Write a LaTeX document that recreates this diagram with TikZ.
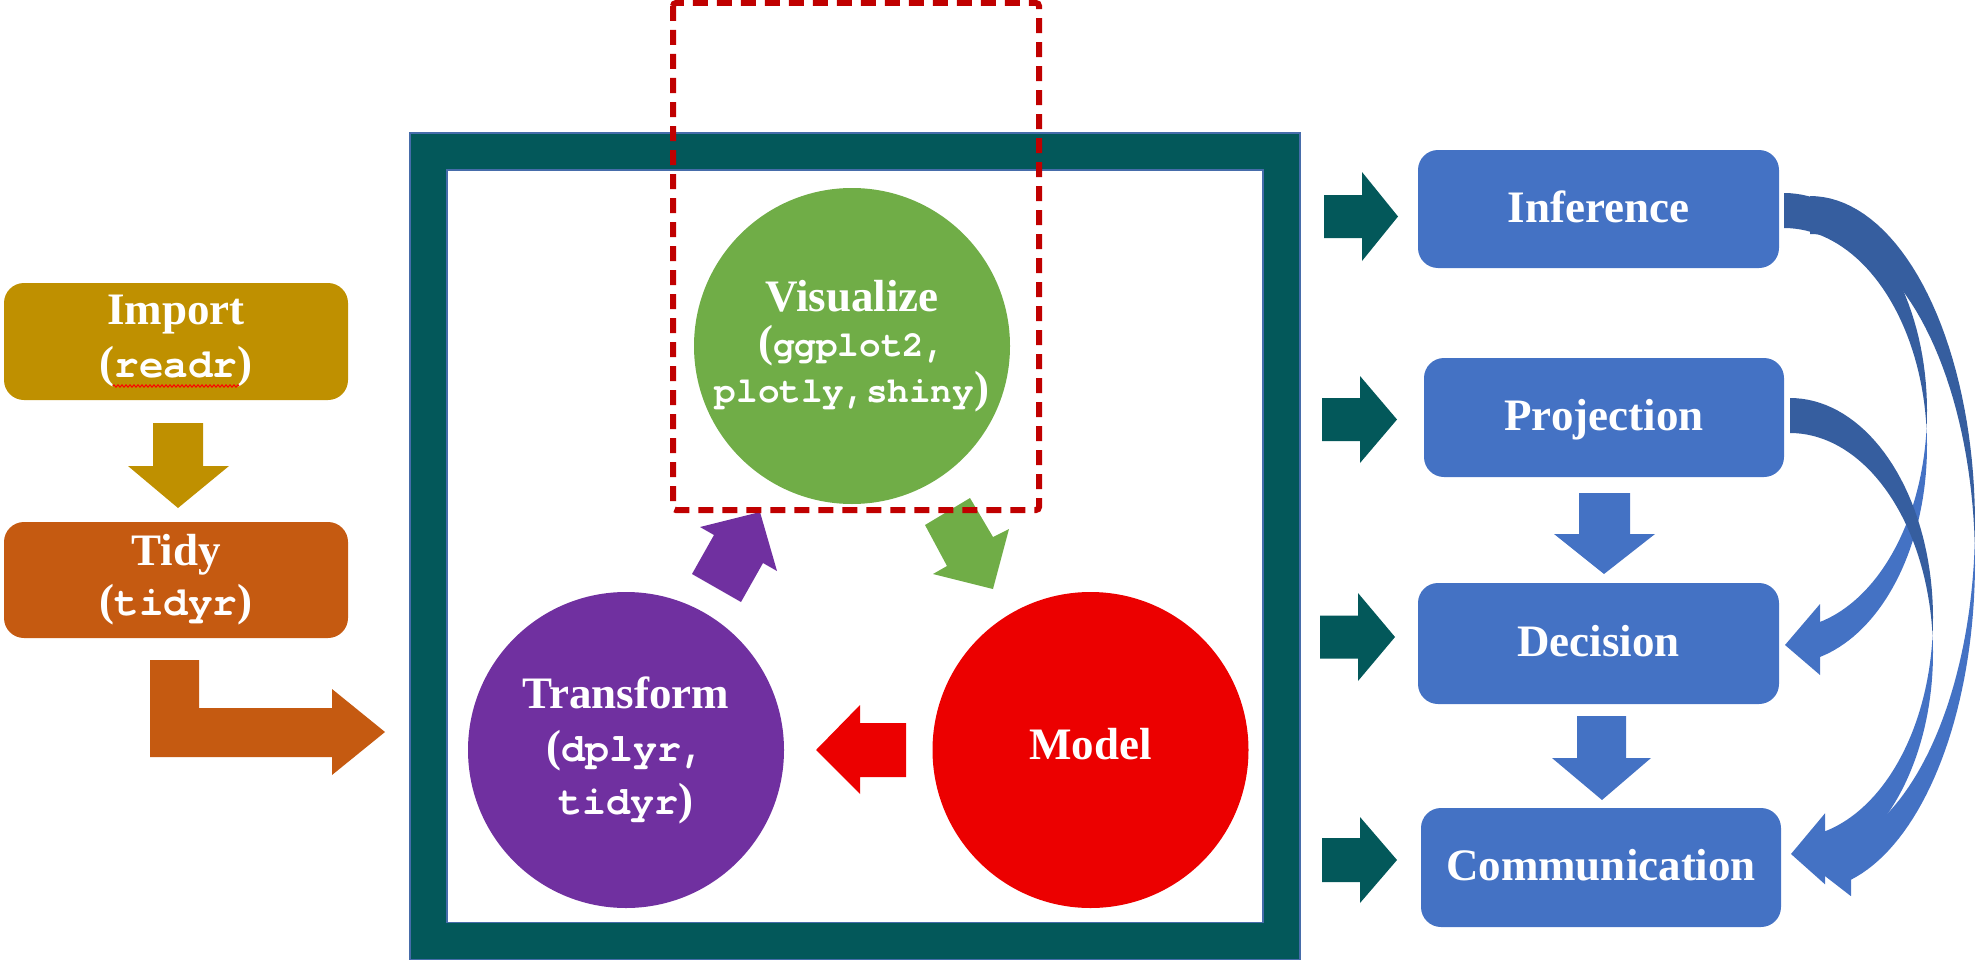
\documentclass[tikz,border=0pt]{standalone}
\usepackage{fontspec}
\setmainfont{Liberation Serif}
\newfontfamily\codefont{TeX Gyre Cursor}
\usetikzlibrary{decorations.pathmorphing}
\definecolor{gold}{RGB}{191,144,0}
\definecolor{rust}{RGB}{197,90,17}
\definecolor{deepteal}{RGB}{3,88,90}
\definecolor{leaf}{RGB}{112,173,71}
\definecolor{plum}{RGB}{112,48,160}
\definecolor{scarlet}{RGB}{236,0,0}
\definecolor{sky}{RGB}{68,114,196}
\definecolor{backblue}{RGB}{54,94,159}
\definecolor{crimson}{RGB}{192,0,0}
\definecolor{rim}{RGB}{70,108,170}
\newcommand{\code}[2]{{\fontsize{#1}{53}\codefont\bfseries #2}}
\begin{document}
\begin{tikzpicture}[x=1pt, y=-1pt]
	\tikzstyle{Stage} = [rectangle, rounded corners=20pt, minimum width=344pt, minimum height=117pt, inner sep=0pt, text=white, align=center, font=\fontsize{45}{53}\selectfont\bfseries]
	\tikzstyle{Phase} = [circle, minimum size=316pt, inner sep=0pt, text=white, align=center]
	\tikzstyle{Result} = [rectangle, rounded corners=20pt, fill=sky, minimum width=360pt, minimum height=119pt, inner sep=0pt, text=white, text height=31pt, text depth=5pt, font=\fontsize{45}{53}\selectfont\bfseries]
	\tikzstyle{Feed} = [fill=deepteal]
	\tikzstyle{Pass} = [fill=sky]
	\tikzstyle{Back} = [fill=backblue]
	\tikzstyle{Rim} = [draw=rim, line width=1.2pt]
	\tikzstyle{Focus} = [draw=crimson, line width=6pt, rounded corners=3pt, dash pattern=on 15pt off 9pt]
	\useasboundingbox (0,0) rectangle (1981,966);

	\node (imp) at (176,341.5) [Stage, fill=gold] {Import\\(\code{41}{readr})};
	\node (tid) at (176,580) [Stage, fill=rust, minimum height=116pt] {Tidy\\[-3pt](\code{41}{tidyr})};
	\draw [red, line width=1pt, decorate, decoration={zigzag, segment length=4pt, amplitude=1.2pt}] (113,386) -- (239,386);
	\fill [gold] (153,423) -- (203,423) -- (203,466) -- (229,466) -- (178,508) -- (128,466) -- (153,466) -- cycle;
	\fill [rust] (150,660) -- (199,660) -- (199,708) -- (332,708) -- (332,689) -- (385,732) -- (332,775) -- (332,757) -- (150,757) -- cycle;

	\node (frame) at (855,546.25) [rectangle, draw=deepteal, line width=37pt, minimum width=853pt, minimum height=789.5pt, inner sep=0pt] {};
	\draw [Rim] (410,133) rectangle (1300,959.5);
	\draw [Rim] (447,170) rectangle (1263,922.5);

	\node (vis) at (852,346) [Phase, fill=leaf, font=\fontsize{45}{45.5}\selectfont\bfseries] {Visualize\\(\code{36}{ggplot2,}\\\code{36}{plotly,shiny})};
	\node (tra) at (626,750) [Phase, fill=plum, font=\fontsize{45}{53}\selectfont\bfseries] {Transform\\(\code{40}{dplyr,}\\\code{40}{tidyr})};
	\node (mod) at (1090.5,750) [Phase, fill=scarlet, text height=31pt, text depth=13pt, font=\fontsize{45}{53}\selectfont\bfseries] {Model};
	\fill [plum] (692,574) -- (741,602) -- (763,563) -- (777,571) -- (760,512) -- (700,527) -- (714,535) -- cycle;
	\fill [leaf] (925,525) -- (970,498) -- (993,537) -- (1009,529) -- (993,589) -- (933,574) -- (947,566) -- cycle;
	\fill [scarlet] (906,723) -- (906,777) -- (860,777) -- (860,794) -- (816,750) -- (860,705) -- (860,723) -- cycle;

	\node (inf) at (1598.5,209) [Result, minimum width=361pt, minimum height=118pt] {Inference};
	\node (pro) at (1604,417.5) [Result] {Projection};
	\node (dec) at (1598.5,643.5) [Result, minimum width=361pt, minimum height=121pt] {Decision};
	\node (com) at (1601,867.5) [Result] {Communication};
	\fill [Feed] (1324,195) -- (1362,195) -- (1362,172) -- (1398,216.5) -- (1362,261) -- (1362,238) -- (1324,238) -- cycle;
	\fill [Feed] (1322,398) -- (1360,398) -- (1360,376) -- (1397,419.5) -- (1360,463) -- (1360,441) -- (1322,441) -- cycle;
	\fill [Feed] (1320,615.5) -- (1358,615.5) -- (1358,593) -- (1395,637) -- (1358,681) -- (1358,658.5) -- (1320,658.5) -- cycle;
	\fill [Feed] (1322,838) -- (1360,838) -- (1360,817) -- (1397,860) -- (1360,903) -- (1360,882) -- (1322,882) -- cycle;
	\fill [Pass] (1579,493) -- (1630,493) -- (1630,534) -- (1655,534) -- (1604,574) -- (1554,534) -- (1579,534) -- cycle;
	\fill [Pass] (1577,716) -- (1626,716) -- (1626,758) -- (1651,758) -- (1602,800) -- (1552,758) -- (1577,758) -- cycle;

	\fill [Back] plot[domain=-90:3.32, samples=40, variable=\t] ({1810+165*cos(\t)},{524+328*sin(\t)}) -- plot[domain=-3.32:-90, samples=40, variable=\t] ({1810+165*cos(\t)},{562+328*sin(\t)}) -- cycle;
	\fill [Pass] plot[domain=3.32:75.61, samples=40, variable=\t] ({1810+165*cos(\t)},{524+328*sin(\t)}) -- (1851,825.2) -- (1812,866) -- (1851,896.2) -- plot[domain=75.61:-3.32, samples=40, variable=\t] ({1810+165*cos(\t)},{562+328*sin(\t)}) -- cycle;
	\fill [Back] plot[domain=-90:4.6, samples=40, variable=\t] ({1784+143*cos(\t)},{411+218*sin(\t)}) -- plot[domain=-4.6:-90, samples=40, variable=\t] ({1784+143*cos(\t)},{446+218*sin(\t)}) -- cycle;
	\fill [Pass] plot[domain=4.6:75.42, samples=40, variable=\t] ({1784+143*cos(\t)},{411+218*sin(\t)}) -- (1820,604) -- (1785,645) -- (1820,675) -- plot[domain=75.42:-4.6, samples=40, variable=\t] ({1784+143*cos(\t)},{446+218*sin(\t)}) -- cycle;
	\fill [Back] plot[domain=-90:4.56, samples=40, variable=\t] ({1790+143*cos(\t)},{618+220*sin(\t)}) -- plot[domain=-4.56:-90, samples=40, variable=\t] ({1790+143*cos(\t)},{653+220*sin(\t)}) -- cycle;
	\fill [Pass] plot[domain=4.56:75.83, samples=40, variable=\t] ({1790+143*cos(\t)},{618+220*sin(\t)}) -- (1825,813.3) -- (1791,854) -- (1825,884.3) -- plot[domain=75.83:-4.56, samples=40, variable=\t] ({1790+143*cos(\t)},{653+220*sin(\t)}) -- cycle;

	\draw [Focus] (673,3) rectangle (1039,510);
\end{tikzpicture}
\end{document}
